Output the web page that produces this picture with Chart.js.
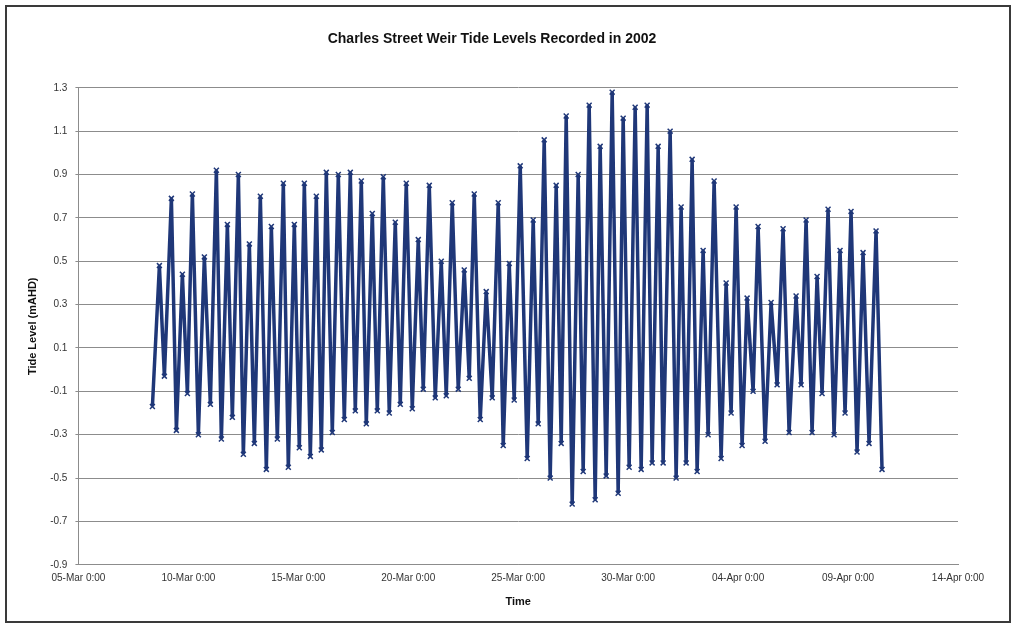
<!DOCTYPE html>
<html>
<head>
<meta charset="utf-8">
<title>Charles Street Weir Tide Levels</title>
<script src="https://cdn.jsdelivr.net/npm/chart.js@4/dist/chart.umd.min.js"></script>
<style>
  html, body { margin: 0; padding: 0; background: #fff; }
  #wrap { position: relative; width: 1021px; height: 629px; overflow: hidden; }
  #tideChart { position: absolute; left: 0; top: 0; }
  #frame {
    position: absolute; left: 5px; top: 5px; width: 1002px; height: 614px;
    border: 2px solid #3a3a3a; pointer-events: none;
  }
</style>
</head>
<body>
<div id="wrap">
  <canvas id="tideChart" width="1021" height="629"></canvas>
  <div id="frame"></div>
</div>
<script>
// highs and lows (time, level in mAHD)
const tideTimes = [
  '08-Mar 08:44', '08-Mar 16:22', '08-Mar 21:49', '09-Mar 05:27', '09-Mar 10:55', '09-Mar 17:27',
  '09-Mar 22:55', '10-Mar 04:22', '10-Mar 10:55', '10-Mar 17:27', '11-Mar 00:00', '11-Mar 06:33',
  '11-Mar 12:00', '11-Mar 18:33', '12-Mar 00:00', '12-Mar 06:33', '12-Mar 12:00', '12-Mar 18:33',
  '13-Mar 00:00', '13-Mar 06:33', '13-Mar 13:05', '13-Mar 18:33', '14-Mar 01:05', '14-Mar 07:38',
  '14-Mar 13:05', '14-Mar 19:38', '15-Mar 01:05', '15-Mar 06:33', '15-Mar 13:05', '15-Mar 19:38',
  '16-Mar 01:05', '16-Mar 06:33', '16-Mar 13:05', '16-Mar 19:38', '17-Mar 02:11', '17-Mar 08:44',
  '17-Mar 14:11', '17-Mar 20:44', '18-Mar 02:11', '18-Mar 08:44', '18-Mar 14:11', '18-Mar 20:44',
  '19-Mar 03:16', '19-Mar 09:49', '19-Mar 15:16', '19-Mar 21:49', '20-Mar 04:22', '20-Mar 10:55',
  '20-Mar 16:22', '20-Mar 22:55', '21-Mar 05:27', '21-Mar 12:00', '21-Mar 17:27', '22-Mar 00:00',
  '22-Mar 06:33', '22-Mar 13:05', '22-Mar 18:33', '23-Mar 00:00', '23-Mar 06:33', '23-Mar 13:05',
  '23-Mar 19:38', '24-Mar 02:11', '24-Mar 07:38', '24-Mar 14:11', '24-Mar 19:38', '25-Mar 02:11',
  '25-Mar 09:49', '25-Mar 16:22', '25-Mar 21:49', '26-Mar 04:22', '26-Mar 10:55', '26-Mar 17:27',
  '26-Mar 22:55', '27-Mar 04:22', '27-Mar 10:55', '27-Mar 17:27', '27-Mar 22:55', '28-Mar 05:27',
  '28-Mar 12:00', '28-Mar 17:27', '29-Mar 00:00', '29-Mar 06:33', '29-Mar 13:05', '29-Mar 18:33',
  '30-Mar 01:05', '30-Mar 07:38', '30-Mar 14:11', '30-Mar 20:44', '31-Mar 02:11', '31-Mar 08:44',
  '31-Mar 14:11', '31-Mar 21:49', '01-Apr 04:22', '01-Apr 09:49', '01-Apr 15:16', '01-Apr 21:49',
  '02-Apr 03:16', '02-Apr 09:49', '02-Apr 15:16', '02-Apr 21:49', '03-Apr 05:27', '03-Apr 10:55',
  '03-Apr 16:22', '03-Apr 21:49', '04-Apr 04:22', '04-Apr 09:49', '04-Apr 16:22', '04-Apr 21:49',
  '05-Apr 05:27', '05-Apr 12:00', '05-Apr 18:33', '06-Apr 01:05', '06-Apr 07:38', '06-Apr 15:16',
  '06-Apr 20:44', '07-Apr 02:11', '07-Apr 08:44', '07-Apr 14:11', '07-Apr 19:38', '08-Apr 02:11',
  '08-Apr 08:44', '08-Apr 15:16', '08-Apr 20:44', '09-Apr 03:16', '09-Apr 09:49', '09-Apr 16:22',
  '09-Apr 22:55', '10-Apr 06:33', '10-Apr 13:05'
];

const tideLevels = [
  -0.17, 0.48, -0.03, 0.79, -0.28, 0.44,
  -0.11, 0.81, -0.30, 0.52, -0.16, 0.92,
  -0.32, 0.67, -0.22, 0.90, -0.39, 0.58,
  -0.34, 0.80, -0.46, 0.66, -0.32, 0.86,
  -0.45, 0.67, -0.36, 0.86, -0.40, 0.80,
  -0.37, 0.91, -0.29, 0.90, -0.23, 0.91,
  -0.19, 0.87, -0.25, 0.72, -0.19, 0.89,
  -0.20, 0.68, -0.16, 0.86, -0.18, 0.60,
  -0.09, 0.85, -0.13, 0.50, -0.12, 0.77,
  -0.09, 0.46, -0.04, 0.81, -0.23, 0.36,
  -0.13, 0.77, -0.35, 0.49, -0.14, 0.94,
  -0.41, 0.69, -0.25, 1.06, -0.50, 0.85,
  -0.34, 1.17, -0.62, 0.90, -0.47, 1.22,
  -0.60, 1.03, -0.49, 1.28, -0.57, 1.16,
  -0.45, 1.21, -0.46, 1.22, -0.43, 1.03,
  -0.43, 1.10, -0.50, 0.75, -0.43, 0.97,
  -0.47, 0.55, -0.30, 0.87, -0.41, 0.40,
  -0.20, 0.75, -0.35, 0.33, -0.10, 0.66,
  -0.33, 0.31, -0.07, 0.65, -0.29, 0.34,
  -0.07, 0.69, -0.29, 0.43, -0.11, 0.74,
  -0.30, 0.55, -0.20, 0.73, -0.38, 0.54,
  -0.34, 0.64, -0.46
];

const xTickLabels = [
  '05-Mar 0:00', '10-Mar 0:00', '15-Mar 0:00', '20-Mar 0:00', '25-Mar 0:00',
  '30-Mar 0:00', '04-Apr 0:00', '09-Apr 0:00', '14-Apr 0:00'
];

const yMin = -0.9;
const yMax = 1.3;

// days after 05-Mar 0:00 (March has 31 days)
function dayOffset(s) {
  const d = parseInt(s.slice(0, 2), 10);
  const mon = s.slice(3, 6);
  const hh = parseInt(s.slice(7, 9), 10);
  const mm = parseInt(s.slice(10, 12), 10);
  const base = mon === 'Mar' ? d - 5 : d + 26;
  return base + hh / 24 + mm / 1440;
}

const points = tideTimes.map((t, i) => ({ x: dayOffset(t), y: tideLevels[i] }));

const ctx = document.getElementById('tideChart').getContext('2d');

new Chart(ctx, {
  type: 'line',
  data: {
    datasets: [{
      label: 'Tide Level',
      data: points,
      borderColor: '#1f3778',
      backgroundColor: '#1f3778',
      borderWidth: 3.5,
      pointStyle: 'crossRot',
      pointRadius: 3.5,
      pointBorderWidth: 1.5,
      tension: 0,
      fill: false
    }]
  },
  options: {
    responsive: false,
    animation: false,
    devicePixelRatio: 1,
    layout: { padding: { left: 26, right: 63, top: 0, bottom: 20 } },
    plugins: {
      legend: { display: false },
      tooltip: { enabled: false },
      title: {
        display: true,
        text: 'Charles Street Weir Tide Levels Recorded in 2002',
        color: '#111',
        font: { family: 'Liberation Sans, Arial, sans-serif', size: 14, weight: 'bold' },
        padding: { top: 31, bottom: 40 }
      }
    },
    scales: {
      x: {
        type: 'linear',
        min: 0,
        max: 40,
        ticks: {
          stepSize: 5,
          color: '#333',
          font: { family: 'Liberation Sans, Arial, sans-serif', size: 10 },
          maxRotation: 0,
          padding: 2,
          callback: (v) => xTickLabels[Math.round(v / 5)]
        },
        grid: { display: false, drawTicks: true, tickLength: 5 },
        border: { display: true, color: '#8c8c8c', width: 1 },
        title: {
          display: true,
          text: 'Time',
          color: '#111',
          font: { family: 'Liberation Sans, Arial, sans-serif', size: 11, weight: 'bold' },
          padding: { top: 10, bottom: 0 }
        }
      },
      y: {
        min: yMin,
        max: yMax,
        ticks: {
          stepSize: 0.2,
          color: '#333',
          font: { family: 'Liberation Sans, Arial, sans-serif', size: 10 },
          padding: 8,
          callback: (v) => v.toFixed(1)
        },
        grid: { color: '#8c8c8c', lineWidth: 1, drawTicks: true, tickLength: 3 },
        border: { display: true, color: '#8c8c8c', width: 1 },
        title: {
          display: true,
          text: 'Tide Level (mAHD)',
          color: '#111',
          font: { family: 'Liberation Sans, Arial, sans-serif', size: 11, weight: 'bold' },
          padding: { top: 0, bottom: 3 }
        }
      }
    }
  }
});
</script>
</body>
</html>
